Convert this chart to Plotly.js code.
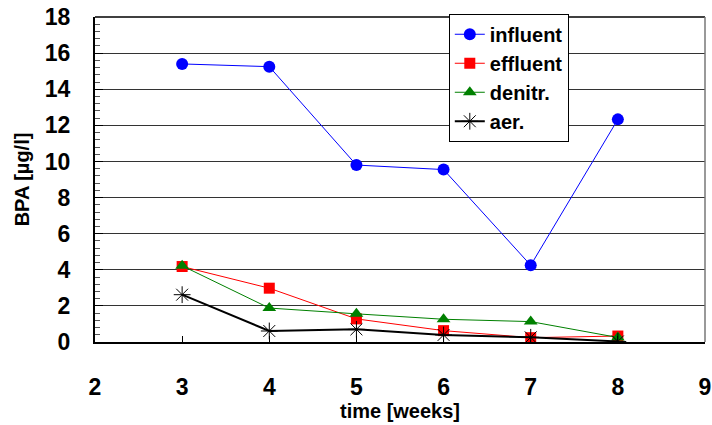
<!DOCTYPE html>
<html><head><meta charset="utf-8">
<script src="https://cdn.plot.ly/plotly-3.0.1.min.js"></script>
<style>html,body{margin:0;padding:0;background:#fff}#c{width:712px;height:425px}</style>
</head><body><div id="c"></div>
<script>
const weeks = [3, 4, 5, 6, 7, 8];
const influent = [15.4, 15.25, 9.8, 9.55, 4.25, 12.33];
const effluent = [4.18, 2.98, 1.28, 0.63, 0.24, 0.33];
const denitr = [4.22, 1.88, 1.56, 1.26, 1.13, 0.25];
const aer = [2.62, 0.61, 0.7, 0.39, 0.26, 0.03];
const seriesNames = ['influent', 'effluent', 'denitr.', 'aer.'];
const xTicks = [2, 3, 4, 5, 6, 7, 8, 9];
const yTicks = [0, 2, 4, 6, 8, 10, 12, 14, 16, 18];

const FONT = 'Liberation Sans, Arial, sans-serif';
const traces = [
  {x: weeks, y: influent, name: seriesNames[0], mode: 'lines+markers',
   line: {color: '#0000ff', width: 1}, marker: {symbol: 'circle', size: 12, color: '#0000ff'}},
  {x: weeks, y: effluent, name: seriesNames[1], mode: 'lines+markers',
   line: {color: '#ff0000', width: 1}, marker: {symbol: 'square', size: 11, color: '#ff0000'}},
  {x: weeks, y: denitr, name: seriesNames[2], mode: 'lines+markers',
   line: {color: '#008000', width: 1}, marker: {symbol: 'triangle-up', size: 12, color: '#008000'}},
  {x: weeks, y: aer, name: seriesNames[3], mode: 'lines+markers',
   line: {color: '#000000', width: 2}, marker: {symbol: 'asterisk-open', size: 14, color: '#000000', line: {color: '#000000', width: 1}}}
];
const layout = {
  width: 712, height: 425,
  margin: {l: 95, r: 7, t: 17, b: 83},
  paper_bgcolor: '#fff', plot_bgcolor: '#fff',
  font: {family: FONT, color: '#000'},
  showlegend: true,
  legend: {x: 0.58, y: 1.01, xanchor: 'left', yanchor: 'top',
    bgcolor: '#fff', bordercolor: '#000', borderwidth: 1,
    font: {family: FONT, size: 20, color: '#000', weight: 'bold'},
    tracegroupgap: 0, itemwidth: 30},
  xaxis: {range: [2, 9], tickvals: xTicks, ticktext: xTicks.map(String),
    showgrid: false, zeroline: false,
    showline: true, linecolor: '#000', linewidth: 2, mirror: false,
    ticks: 'inside', ticklen: 6, tickcolor: '#000', tickwidth: 1,
    ticklabelstandoff: 23,
    tickfont: {family: FONT, size: 23, color: '#000', weight: 'bold'},
    title: {text: 'time [weeks]', standoff: 2, font: {family: FONT, size: 20, color: '#000', weight: 'bold'}}},
  yaxis: {range: [0, 18], tickvals: yTicks, ticktext: yTicks.map(String),
    showgrid: true, gridcolor: '#333', gridwidth: 1, zeroline: false,
    showline: true, linecolor: '#000', linewidth: 2,
    ticks: 'inside', ticklen: 8, tickcolor: '#000',
    ticklabelstandoff: 18,
    minor: {dtick: 0.4, ticks: 'inside', ticklen: 5, tickcolor: '#555', showgrid: false},
    tickfont: {family: FONT, size: 23, color: '#000', weight: 'bold'},
    title: {text: 'BPA [µg/l]', standoff: 10, font: {family: FONT, size: 20, color: '#000', weight: 'bold'}}},
  shapes: [
    {type: 'line', xref: 'paper', yref: 'paper', x0: 0, x1: 1, y0: 1, y1: 1, line: {color: '#000', width: 1.5}},
    {type: 'line', xref: 'paper', yref: 'paper', x0: 1, x1: 1, y0: 0, y1: 1, line: {color: '#777', width: 1.5}}
  ]
};
Plotly.newPlot('c', traces, layout, {displayModeBar: false, staticPlot: true});
</script></body></html>
